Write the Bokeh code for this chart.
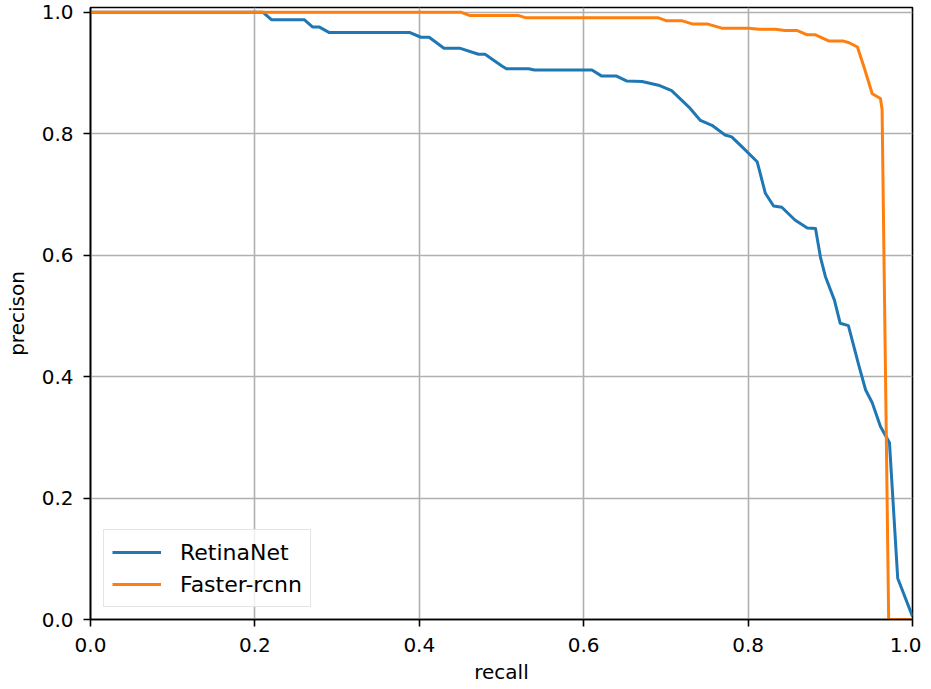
from bokeh.plotting import figure
from bokeh.models import Range1d, FixedTicker, NumeralTickFormatter, Legend, LegendItem
from bokeh.embed import file_html
from bokeh.resources import INLINE

# RetinaNet PR curve
recall_r = [0.0, 0.21, 0.22, 0.26, 0.27, 0.278, 0.29, 0.388, 0.402, 0.412,
            0.43, 0.449, 0.472, 0.48, 0.5, 0.506, 0.533, 0.54, 0.61, 0.622,
            0.64, 0.652, 0.671, 0.691, 0.707, 0.728, 0.742, 0.756, 0.772, 0.78,
            0.793, 0.811, 0.821, 0.831, 0.841, 0.857, 0.872, 0.882, 0.888, 0.894,
            0.905, 0.912, 0.922, 0.935, 0.943, 0.951, 0.961, 0.970, 0.972, 0.982,
            1.0]
prec_r = [1.0, 1.0, 0.988, 0.988, 0.976, 0.976, 0.967, 0.967, 0.959, 0.959,
          0.941, 0.941, 0.931, 0.931, 0.912, 0.907, 0.907, 0.905, 0.905, 0.895,
          0.895, 0.887, 0.886, 0.880, 0.871, 0.844, 0.822, 0.814, 0.798, 0.795,
          0.778, 0.754, 0.702, 0.681, 0.679, 0.658, 0.645, 0.644, 0.597, 0.565,
          0.526, 0.488, 0.484, 0.417, 0.378, 0.357, 0.318, 0.296, 0.291, 0.068,
          0.005]

# Faster-rcnn PR curve
recall_f = [0.0, 0.451, 0.461, 0.52, 0.53, 0.691, 0.701, 0.720, 0.732, 0.750,
            0.768, 0.801, 0.813, 0.833, 0.845, 0.860, 0.872, 0.882, 0.898, 0.915,
            0.923, 0.933, 0.941, 0.951, 0.961, 0.963, 0.971, 1.0]
prec_f = [1.0, 1.0, 0.995, 0.995, 0.991, 0.991, 0.986, 0.986, 0.981, 0.981,
          0.974, 0.974, 0.972, 0.972, 0.970, 0.970, 0.963, 0.963, 0.953, 0.953,
          0.950, 0.943, 0.910, 0.866, 0.858, 0.84, 0.0, 0.0]

ticks = [0.0, 0.2, 0.4, 0.6, 0.8, 1.0]
series_names = ["RetinaNet", "Faster-rcnn"]
colors = ["#1f77b4", "#ff7f0e"]

FONT = "DejaVu Sans"

p = figure(width=921, height=688, output_backend="svg", toolbar_location=None,
           x_range=Range1d(0, 1.0), y_range=Range1d(0, 1.008),
           min_border_left=90, min_border_right=9, min_border_top=7, min_border_bottom=69)

p.background_fill_color = "white"
p.border_fill_color = "white"
p.outline_line_color = "black"
p.outline_line_width = 1.6

r1 = p.line(recall_r, prec_r, line_color=colors[0], line_width=3, line_join="round")
r2 = p.line(recall_f, prec_f, line_color=colors[1], line_width=3, line_join="round")

for ax in (p.xaxis[0], p.yaxis[0]):
    ax.ticker = FixedTicker(ticks=ticks)
    ax.formatter = NumeralTickFormatter(format="0.0")
    ax.axis_line_color = "black"
    ax.axis_line_width = 1.6
    ax.major_tick_line_color = "black"
    ax.major_tick_line_width = 1.6
    ax.major_tick_out = 7
    ax.major_tick_in = 0
    ax.minor_tick_line_color = None
    ax.major_label_text_font = FONT
    ax.major_label_text_font_size = "20px"
    ax.major_label_text_color = "black"
    ax.axis_label_text_font = FONT
    ax.axis_label_text_font_size = "20px"
    ax.axis_label_text_font_style = "normal"
    ax.axis_label_text_color = "black"

p.xaxis.axis_label = "recall"
p.yaxis.axis_label = "precison"
p.xaxis.major_label_standoff = 11
p.yaxis.major_label_standoff = 10
p.xaxis.axis_label_standoff = 5
p.yaxis.axis_label_standoff = 10

p.xgrid.ticker = FixedTicker(ticks=ticks)
p.ygrid.ticker = FixedTicker(ticks=ticks)
for g in (p.xgrid[0], p.ygrid[0]):
    g.grid_line_color = "#b0b0b0"
    g.grid_line_width = 1.6

legend = Legend(items=[LegendItem(label=series_names[0], renderers=[r1]),
                       LegendItem(label=series_names[1], renderers=[r2])],
                location=(13, 12))
legend.label_text_font = FONT
legend.label_text_font_size = "22px"
legend.label_text_color = "black"
legend.glyph_width = 49
legend.glyph_height = 28
legend.label_height = 28
legend.label_standoff = 19
legend.spacing = 4
legend.padding = 8
legend.margin = 0
legend.border_line_color = "#cccccc"
legend.border_line_width = 1.5
legend.background_fill_alpha = 0.8
p.add_layout(legend, "center")

open("out.html", "w").write(file_html(p, INLINE))
